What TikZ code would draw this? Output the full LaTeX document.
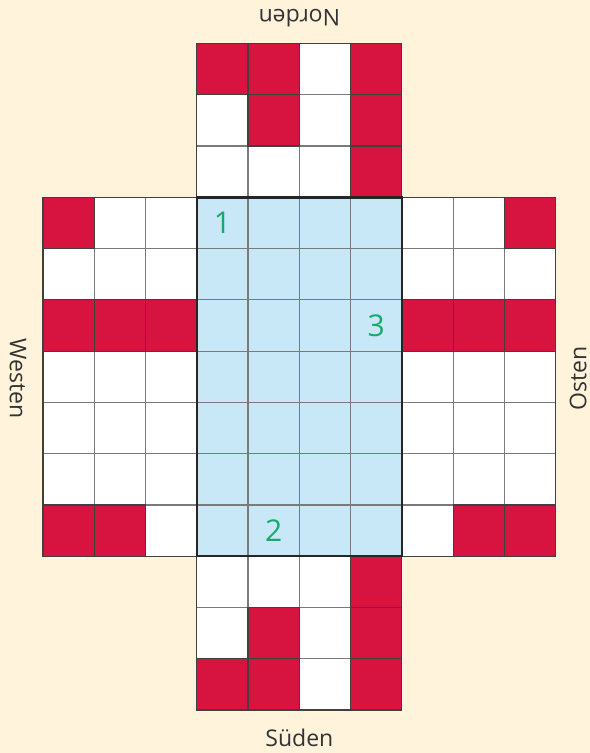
\documentclass[tikz,border=0pt]{standalone}
\usepackage{fontspec}
\setmainfont{Open Sans}
\usetikzlibrary{positioning}
\definecolor{bgCream}{HTML}{FFF3DC}
\definecolor{cellRed}{HTML}{D7143F}
\definecolor{cellBlue}{HTML}{C8E8F8}
\definecolor{numGreen}{HTML}{1AA86B}
\definecolor{gridGray}{HTML}{7A7A7A}

\begin{document}
\begin{tikzpicture}[x=0.9cm, y=0.9cm,
  gridline/.style={gridGray, line width=0.6pt, step=0.9cm},
  redcell/.style={fill=cellRed, draw=black!75, line width=0.6pt},
  compass/.style={font=\fontsize{11.5}{13}\selectfont, text=black!80},
  fieldnum/.style={font=\fontsize{15}{17}\selectfont, text=numGreen}]
  % background
  \fill[bgCream] (-0.84,-3.84) rectangle (10.67,10.85);
  \useasboundingbox (-0.84,-3.84) rectangle (10.67,10.85);
  % white areas
  \fill[white] (3,7) rectangle (7,10);
  \fill[white] (0,0) rectangle (10,7);
  \fill[white] (3,-3) rectangle (7,0);
  % blue field
  \fill[cellBlue] (3,0) rectangle (7,7);
  % grid
  \draw[gridline] (3,7) grid (7,10);
  \draw[gridline] (0,0) grid (10,7);
  \draw[gridline] (3,-3) grid (7,0);
  % red cells
  \foreach \x/\y in {3/9,4/9,6/9, 4/8,6/8, 6/7,
                     0/6,9/6, 0/4,1/4,2/4,7/4,8/4,9/4, 0/0,1/0,8/0,9/0,
                     6/-1, 4/-2,6/-2, 3/-3,4/-3,6/-3}
    \draw[redcell] (\x,\y) rectangle ++(1,1);
  % outlines
  \draw[black!75, line width=0.6pt] (3,7) rectangle (7,10);
  \draw[black!75, line width=0.6pt] (0,0) rectangle (10,7);
  \draw[black!75, line width=0.6pt] (3,-3) rectangle (7,0);
  \draw[black!85, line width=1.3pt] (3,0) rectangle (7,7);
  % numbers
  \node[fieldnum] (num1) at (3.5,6.5) {1};
  \node[fieldnum] (num2) at (4.5,0.5) {2};
  \node[fieldnum] (num3) at (6.5,4.5) {3};
  % directions
  \node[compass, rotate=180] (north) at (5,10.5) {Norden};
  \node[compass] (south) at (5,-3.55) {Süden};
  \node[compass, rotate=-90] (west) at (-0.49,3.47) {Westen};
  \node[compass, rotate=90] (east) at (10.44,3.47) {Osten};
\end{tikzpicture}
\end{document}
